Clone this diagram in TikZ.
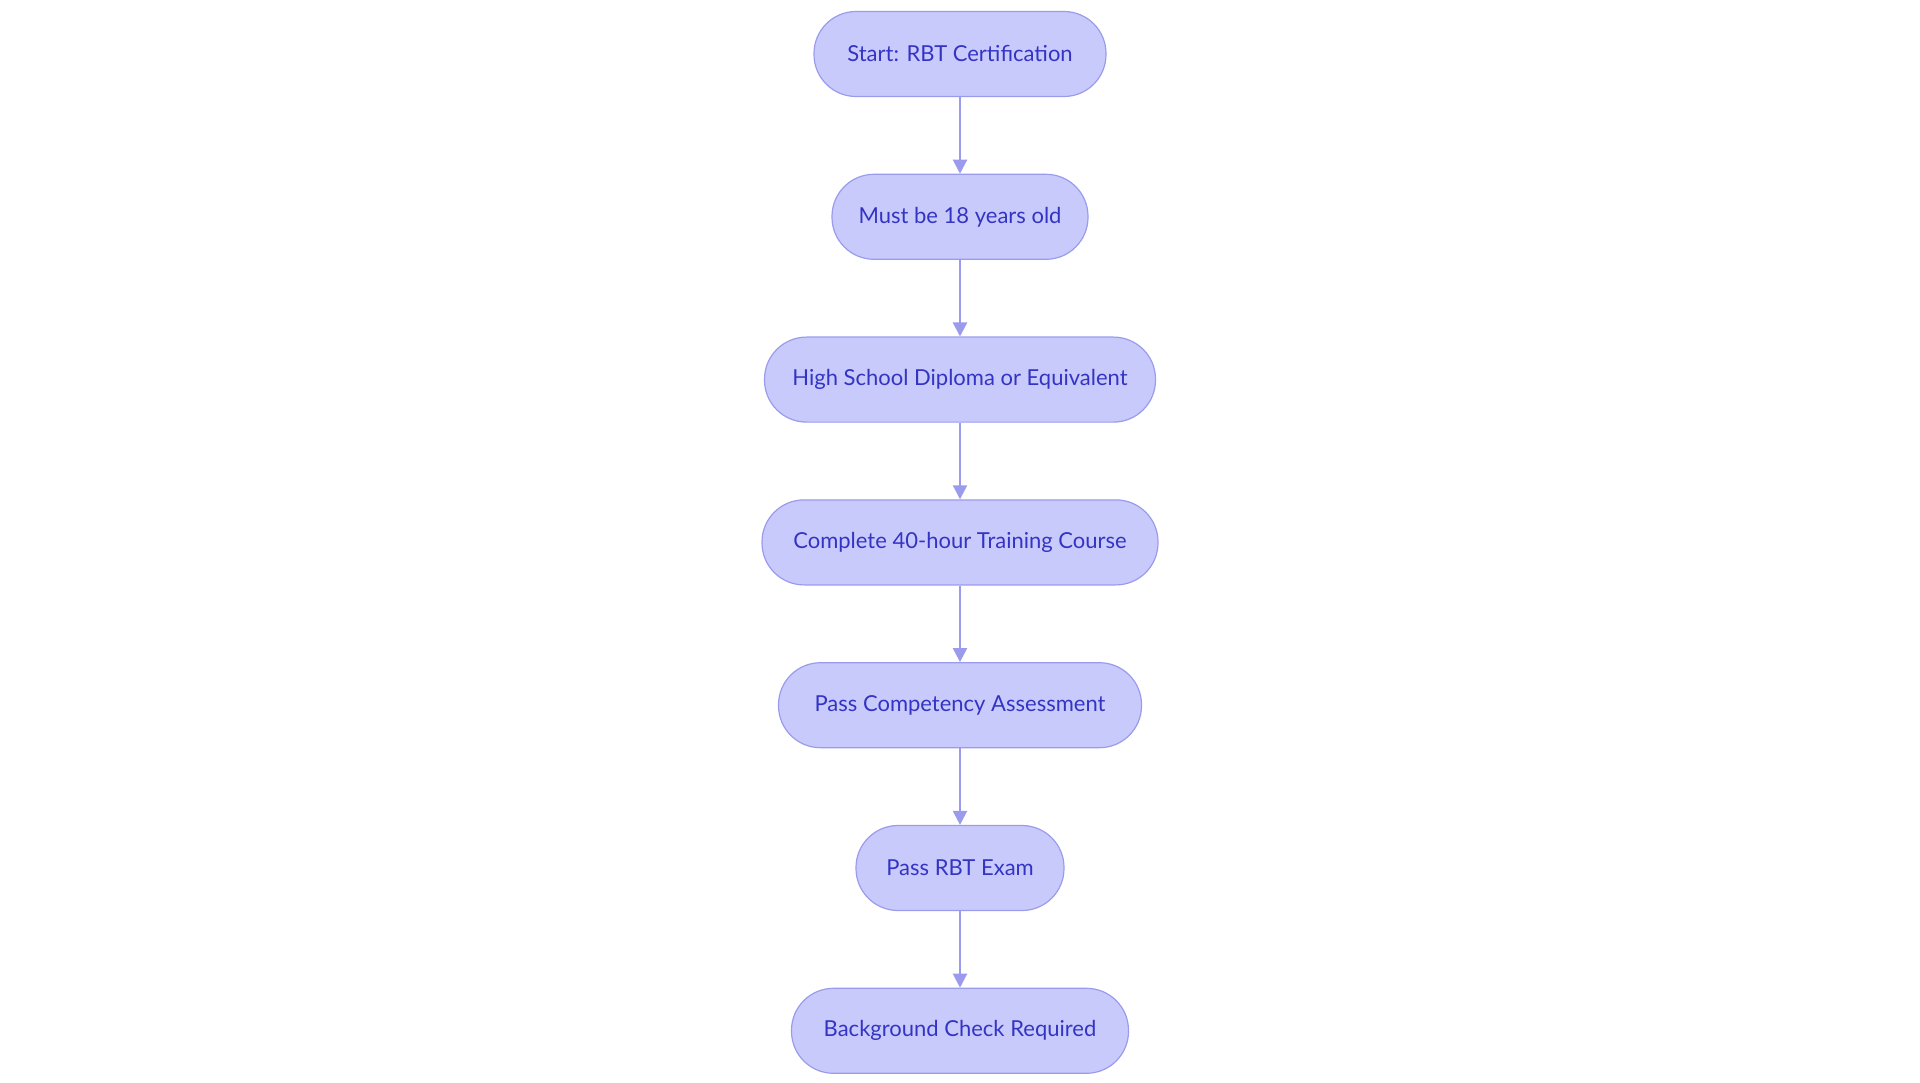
\documentclass[tikz,border=0pt]{standalone}
\usepackage{fontspec}
\setmainfont{Lato}
\usetikzlibrary{positioning,arrows.meta}
\definecolor{stepfill}{HTML}{C9CAFC}
\definecolor{stepdraw}{HTML}{9A9BEC}
\definecolor{steptext}{HTML}{3434C4}

\begin{document}
\begin{tikzpicture}[
            x=1pt,y=1pt,
            stp/.style ={
                draw=stepdraw,
                fill=stepfill,
                text=steptext,
                line width=1.2pt,
                rounded corners=42pt,
                minimum height=85pt,
                font=\fontsize{22}{26}\selectfont
            },
            flow/.style ={
                -{Triangle[length=14pt,width=14pt]},
                draw=stepdraw,
                line width=2.2pt
            },
            node distance=76.6pt
            ]
            \useasboundingbox (0,0) rectangle (1920,-1083);

            \node[stp,minimum width=292pt] (start) at (960,-54) {Start: RBT Certification};
            \node[stp,minimum width=256pt] (age) [below=of start] {Must be 18 years old};
            \node[stp,minimum width=391pt] (diploma) [below=of age] {High School Diploma or Equivalent};
            \node[stp,minimum width=396pt] (course) [below=of diploma] {Complete 40-hour Training Course};
            \node[stp,minimum width=363pt] (assess) [below=of course] {Pass Competency Assessment};
            \node[stp,minimum width=208pt] (exam) [below=of assess] {Pass RBT Exam};
            \node[stp,minimum width=337pt] (check) [below=of exam] {Background Check Required};

            %% Connectors
            \foreach \a/\b in {start/age,age/diploma,diploma/course,course/assess,assess/exam,exam/check}
                \draw[flow] (\a) -- (\b);

        \end{tikzpicture}
\end{document}
